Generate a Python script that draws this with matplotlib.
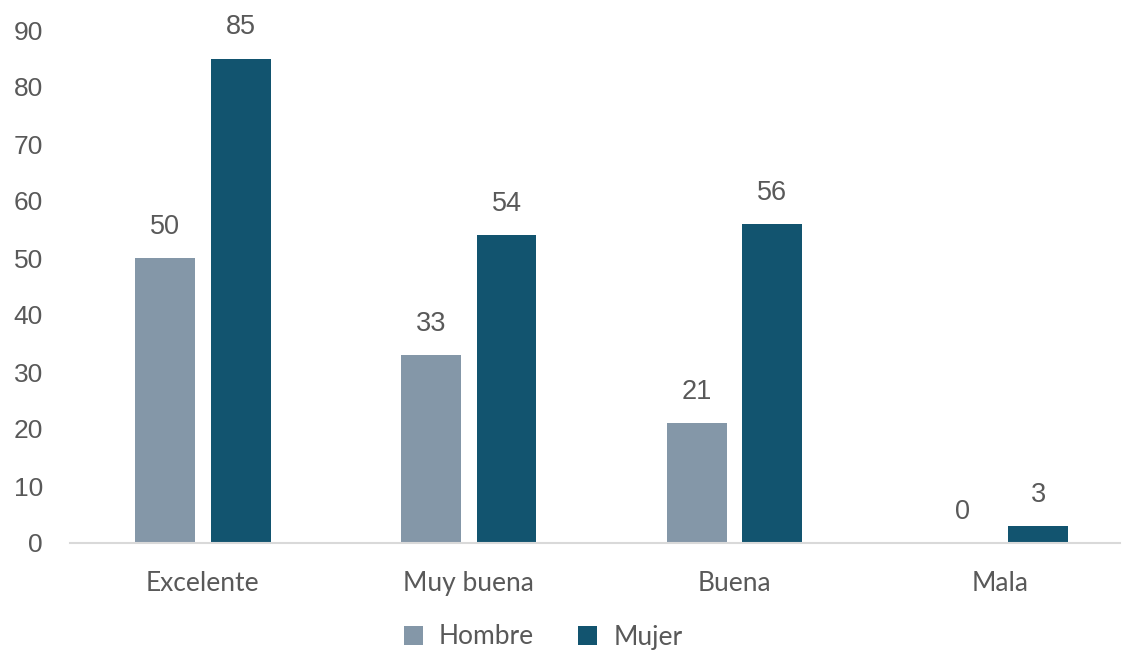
import matplotlib
matplotlib.use('Agg')
import matplotlib.pyplot as plt
import numpy as np

# Datos del gráfico
categorias = ["Excelente", "Muy buena", "Buena", "Mala"]
hombre = [50, 33, 21, 0]
mujer = [85, 54, 56, 3]

color_hombre = "#8497a8"
color_mujer = "#12546f"
color_texto = "#595959"

fig = plt.figure(figsize=(11.22, 6.5), dpi=100)
ax = fig.add_axes([70 / 1122, 1 - 543 / 650, 1050 / 1122, 513 / 650])

x = np.arange(len(categorias))
ancho = 0.225
desp = 0.142

b1 = ax.bar(x - desp, hombre, ancho, color=color_hombre, label="Hombre")
b2 = ax.bar(x + desp, mujer, ancho, color=color_mujer, label="Mujer")

for barras in (b1, b2):
    for b in barras:
        ax.annotate(f"{int(b.get_height())}",
                    (b.get_x() + b.get_width() / 2, b.get_height()),
                    xytext=(0, 13), textcoords="offset points",
                    ha="center", va="bottom", fontsize=19.5,
                    family="Liberation Sans", color=color_texto)

ax.set_ylim(0, 90)
ax.set_xlim(-0.5, 3.45)
ax.set_yticks(range(0, 91, 10))
ax.set_xticks(x)
ax.set_xticklabels(categorias, family="Lato", fontsize=19, color=color_texto)
for t in ax.get_yticklabels():
    t.set_family("Liberation Sans")
    t.set_fontsize(19)
    t.set_color(color_texto)

ax.tick_params(axis="y", length=0, pad=19.5)
ax.tick_params(axis="x", length=0, pad=20)
for s in ["top", "right", "left"]:
    ax.spines[s].set_visible(False)
ax.spines["bottom"].set_color("#d9d9d9")
ax.spines["bottom"].set_linewidth(1.5)

fig.legend(handles=[b1, b2], labels=["Hombre", "Mujer"], loc="center",
           bbox_to_anchor=(543 / 1122, 1 - 637 / 650), ncol=2, frameon=False,
           prop={"family": "Lato", "size": 19}, labelcolor=color_texto,
           handlelength=0.72, handleheight=0.72, columnspacing=1.7, handletextpad=0.6)

plt.savefig("out.png", dpi=100)
